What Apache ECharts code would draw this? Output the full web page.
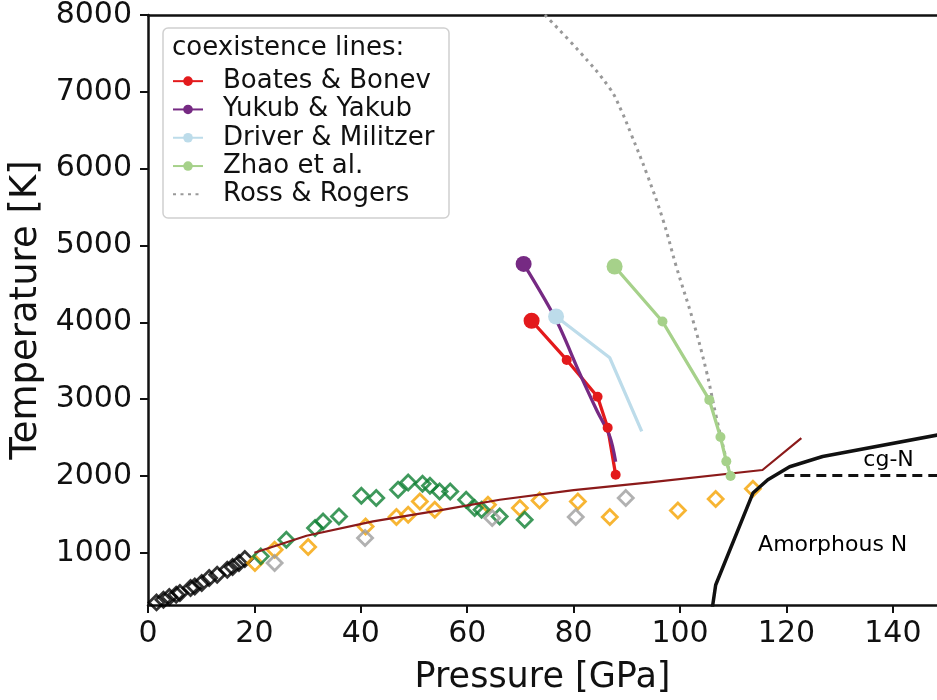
<!DOCTYPE html>
<html>
<head>
    <meta charset="UTF-8">
    <title>Nitrogen phase diagram</title>
    <style>
        *{
            margin: 0;
            padding: 0;
        }
        .container{
            width: 937px;
            height: 700px;
            background: #fff;
        }
    </style>
    <script src="https://cdn.jsdelivr.net/npm/echarts@6/dist/echarts.min.js"></script>
</head>
<body>
<div class="container"></div>
<script>
    // tick labels
    let xTicks=[0,20,40,60,80,100,120,140]
    let yTicks=[1000,2000,3000,4000,5000,6000,7000,8000]

    // coexistence lines [pressure GPa, temperature K]
    let boatesBonev=[[72.1,4020],[78.7,3510],[84.5,3030],[86.4,2627],[87.9,2015]]
    let yukubYakub=[[70.6,4760],[76.7,4032],[81.1,3342],[84.3,2861],[86.8,2513],[87.9,2185]]
    let driverMilitzer=[[76.7,4075],[86.8,3538],[92.8,2579]]
    let zhao=[[87.7,4726],[96.7,4010],[105.5,2990],[107.6,2506],[108.7,2190],[109.5,2000]]
    let rossRogers=[[74.6,8000],[81.1,7523],[86.8,7046],[89.0,6750],[90.8,6450],[93.7,5944],[96.8,5333],
        [99.3,4725],[102.4,4032],[104.9,3381],[106.8,2774],[108.7,2211],[109.5,2000]]

    // melting line and solid boundaries
    let meltLine=[[20,1000],[29.8,1222],[42.3,1408],[54.8,1551],[66.1,1690],[80,1815],[94.3,1915],[115.5,2077],[122.8,2493]]
    let amorphousLine=[[106.0,250],[106.7,580],[113.7,1777],[116.5,1950],[120.6,2120],[126.8,2253],[149,2540]]
    let cgLine=[[119.6,2005],[149,2005]]

    // experimental points
    let blackPts=[[1.6,354],[2.9,389],[4.0,424],[5.3,454],[6.0,476],[8.0,541],[8.8,562],[10.1,606],
        [11.5,671],[13.0,714],[14.9,779],[15.9,814],[17.1,866],[18.2,918]]
    let orangePts=[[20.1,867],[23.8,1040],[30.1,1075],[40.9,1343],[46.7,1465],[48.9,1495],[51.1,1668],
        [53.9,1560],[63.9,1625],[69.9,1582],[73.6,1681],[80.8,1668],[86.8,1465],[99.6,1551],[106.7,1699],[113.7,1833]]
    let greenPts=[[21.2,953],[26.0,1170],[31.4,1322],[32.9,1408],[35.9,1473],[40.1,1742],[42.9,1712],
        [47.0,1820],[48.9,1915],[51.6,1898],[53.0,1872],[54.8,1798],[56.8,1798],[59.8,1690],[61.4,1582],
        [62.7,1560],[66.1,1473],[70.8,1430]]
    let grayPts=[[23.8,867],[40.8,1192],[64.7,1452],[80.4,1465],[89.8,1712]]

    let phaseLabels=[[139.2,2210,'cg-N'],[128.7,1092,'Amorphous N']]

    let font='DejaVu Sans'
    let ink='#111'

    let container=document.querySelector('.container')
    let mychart=echarts.init(container)

    function diamonds(pts,color){
        return {
            type:'scatter',
            data:pts,
            symbol:'diamond',
            symbolSize:[15,15],
            itemStyle:{color:'rgba(0,0,0,0)',borderColor:color,borderWidth:2.8},
            z:2,
            silent:true
        }
    }
    // first point gets the big marker
    function firstBig(pts,bigSize,restSize){
        return pts.map((p,i)=>{
            if(i==0) return {value:p,symbolSize:bigSize}
            if(restSize==0) return {value:p,symbol:'none'}
            return {value:p,symbolSize:restSize}
        })
    }
    function coex(name,pts,color,restSize){
        return {
            name,
            type:'line',
            data:firstBig(pts,16,restSize),
            symbol:'circle',
            symbolSize:10,
            showSymbol:true,
            lineStyle:{color,width:3.3},
            itemStyle:{color},
            z:5
        }
    }

    let yukub=coex('Yukub & Yakub',yukubYakub,'#762a83',0)
    yukub.smooth=0.3

    let series=[
        diamonds(blackPts,'#000'),
        diamonds(orangePts,'#f5a300'),
        diamonds(greenPts,'#0f7f33'),
        diamonds(grayPts,'#9e9e9e'),
        {type:'line',data:meltLine,symbol:'none',lineStyle:{color:'#8b1a1a',width:2.2},z:3,silent:true},
        {type:'line',data:amorphousLine,symbol:'none',lineStyle:{color:'#111',width:3.5},z:3,silent:true},
        {type:'line',data:cgLine,symbol:'none',lineStyle:{color:'#111',width:3,type:[10,6]},z:3,silent:true},
        coex('Boates & Bonev',boatesBonev,'#e31a1c',10),
        yukub,
        coex('Driver & Militzer',driverMilitzer,'#bddcea',0),
        coex('Zhao et al.',zhao,'#a6d18a',10),
        {
            name:'Ross & Rogers',
            type:'line',
            data:rossRogers,
            symbol:'none',
            smooth:0.4,
            lineStyle:{color:'#999',width:3,type:[3,4.5]},
            itemStyle:{color:'#999'},
            z:4
        }
    ]

    let axisFont={fontFamily:font,fontSize:30,color:ink,formatter:v=>String(v)}

    let option={
        animation:false,
        grid:{left:148,top:15,right:0,bottom:95,containLabel:false,outerBoundsMode:'none'},
        legend:{
            orient:'vertical',
            left:172,
            top:67,
            padding:0,
            itemGap:0,
            itemWidth:30,
            itemHeight:12,
            selectedMode:false,
            z:101,
            textStyle:{fontFamily:font,fontSize:26,color:ink,lineHeight:28.3,padding:[0,0,0,15]},
            data:['Boates & Bonev','Yukub & Yakub','Driver & Militzer','Zhao et al.',
                {name:'Ross & Rogers',itemStyle:{color:'rgba(0,0,0,0)',borderWidth:0}}]
        },
        xAxis:[
            {
                type:'value',
                min:0,
                max:148.3,
                position:'bottom',
                name:'Pressure [GPa]',
                nameLocation:'middle',
                nameGap:55,
                nameTextStyle:{fontFamily:font,fontSize:35,color:ink},
                axisLine:{lineStyle:{color:'#111',width:2.5}},
                axisTick:{customValues:xTicks,length:8,lineStyle:{color:'#111',width:2}},
                axisLabel:Object.assign({customValues:xTicks,margin:14},axisFont),
                splitLine:{show:false}
            },
            {
                type:'value',
                min:0,
                max:148.3,
                position:'top',
                axisLine:{lineStyle:{color:'#111',width:2.5}},
                axisTick:{show:false},
                axisLabel:{show:false},
                splitLine:{show:false}
            }
        ],
        yAxis:{
            type:'value',
            min:320,
            max:8000,
            name:'Temperature [K]',
            nameLocation:'middle',
            nameGap:97,
            nameTextStyle:{fontFamily:font,fontSize:37,color:ink},
            axisLine:{lineStyle:{color:'#111',width:2.5}},
            axisTick:{customValues:yTicks,length:8,lineStyle:{color:'#111',width:2}},
            axisLabel:Object.assign({customValues:yTicks,margin:16},axisFont),
            splitLine:{show:false}
        },
        series
    }
    mychart.setOption(option)

    // legend box + title, and phase region labels placed in data coordinates
    let graphics=[
        {
            type:'rect',
            shape:{x:163,y:28,width:286,height:190,r:5},
            style:{fill:'rgba(255,255,255,0.85)',stroke:'#d0d0d0',lineWidth:1.5},
            z:100
        },
        {
            type:'text',
            x:172,
            y:48,
            style:{text:'coexistence lines:',fontFamily:font,fontSize:26,fill:ink,verticalAlign:'middle'},
            z:101
        }
    ]
    phaseLabels.forEach(l=>{
        let pt=mychart.convertToPixel({xAxisIndex:0,yAxisIndex:0},[l[0],l[1]])
        graphics.push({
            type:'text',
            x:pt[0],
            y:pt[1],
            style:{text:l[2],fontFamily:font,fontSize:22,fill:'#000',align:'center',verticalAlign:'middle'},
            z:50
        })
    })
    mychart.setOption({graphic:graphics})
</script>
</body>
</html>
